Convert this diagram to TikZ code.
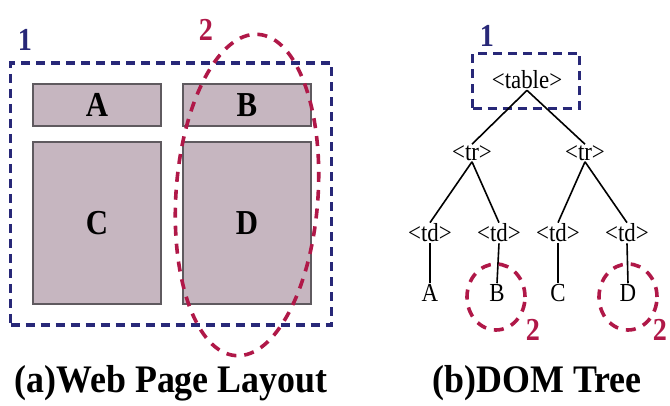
\documentclass[tikz,border=0pt]{standalone}
\usepackage{fontspec}
\setmainfont{Liberation Serif}
\newfontfamily\condfont[FakeStretch=0.88]{Liberation Serif}
\newfontfamily\capfont[FakeStretch=0.92]{Liberation Serif}
\usetikzlibrary{shapes.geometric}
\definecolor{navy}{RGB}{40,40,120}
\definecolor{crimson}{RGB}{176,24,72}
\definecolor{mauve}{RGB}{198,182,192}
\definecolor{edge}{RGB}{95,90,95}
\tikzset{
  cell/.style={draw=edge, line width=1.2pt, fill=mauve, minimum width=128pt, inner sep=0pt, font=\condfont\bfseries\fontsize{35}{35}\selectfont},
  bluedash/.style={draw=navy, line width=3.6pt, dash pattern=on 9pt off 6pt},
  reddash/.style={draw=crimson, line width=3.6pt, dash pattern=on 10pt off 8pt},
  bluelbl/.style={text=navy, font=\condfont\bfseries\fontsize{32}{32}\selectfont},
  redlbl/.style={text=crimson, font=\condfont\bfseries\fontsize{32}{32}\selectfont},
  tag/.style={inner sep=1pt, font=\condfont\fontsize{26}{26}\selectfont},
  leaf/.style={inner sep=1pt, font=\condfont\fontsize{26}{26}\selectfont},
  branch/.style={line width=1.6pt},
  caption/.style={font=\capfont\bfseries\fontsize{39}{39}\selectfont}
}
\begin{document}
\begin{tikzpicture}[x=1pt,y=-1pt]
\useasboundingbox (0,0) rectangle (670,406);
\fill[white] (0,0) rectangle (670,406);

% (a) page layout
\node[bluedash, minimum width=321pt, minimum height=262pt] (page) at (171,194) {};
\node[bluelbl] (one) at (25,40) {1};
\node[cell, minimum height=42pt] (A) at (97,105) {A};
\node[cell, minimum height=42pt] (B) at (247,105) {B};
\node[cell, minimum height=162pt] (C) at (97,223) {C};
\node[cell, minimum height=162pt] (D) at (247,223) {D};
\node[reddash, ellipse, inner sep=0pt, minimum width=142pt, minimum height=322pt, rotate=-4] (col) at (247,195) {};
\node[redlbl] (two) at (206,30) {2};

% (b) DOM tree
\node[tag] (tbl) at (527,80) {<table>};
\node[bluedash, minimum width=107pt, minimum height=55pt, inner sep=0pt] (tblbox) at (526,81) {};
\node[bluelbl] (oneb) at (487,36) {1};
\node[tag] (trL) at (472,153) {<tr>};
\node[tag] (trR) at (585,153) {<tr>};
\node[tag] (td1) at (430,233) {<td>};
\node[tag] (td2) at (499,233) {<td>};
\node[tag] (td3) at (558,233) {<td>};
\node[tag] (td4) at (627,233) {<td>};
\node[leaf] (lA) at (430,293) {A};
\node[leaf] (lB) at (497,293) {B};
\node[leaf] (lC) at (558,293) {C};
\node[leaf] (lD) at (628,293) {D};

\draw[branch] (tbl.south) -- (trL.north);
\draw[branch] (tbl.south) -- (trR.north);
\draw[branch] (trL.south) -- (td1.north);
\draw[branch] (trL.south) -- (td2.north);
\draw[branch] (trR.south) -- (td3.north);
\draw[branch] (trR.south) -- (td4.north);
\draw[branch] (td1.south) -- (lA.north);
\draw[branch] (td2.south) -- (lB.north);
\draw[branch] (td3.south) -- (lC.north);
\draw[branch] (td4.south) -- (lD.north);

\node[reddash, ellipse, inner sep=0pt, minimum width=58pt, minimum height=66pt] (ringB) at (496,297) {};
\node[reddash, ellipse, inner sep=0pt, minimum width=58pt, minimum height=66pt] (ringD) at (628,297) {};
\node[redlbl] (twoB) at (533,330) {2};
\node[redlbl] (twoD) at (660,330) {2};

% captions
\node[caption] (capa) at (171,383) {(a)Web Page Layout};
\node[caption] (capb) at (537,383) {(b)DOM Tree};
\end{tikzpicture}
\end{document}
